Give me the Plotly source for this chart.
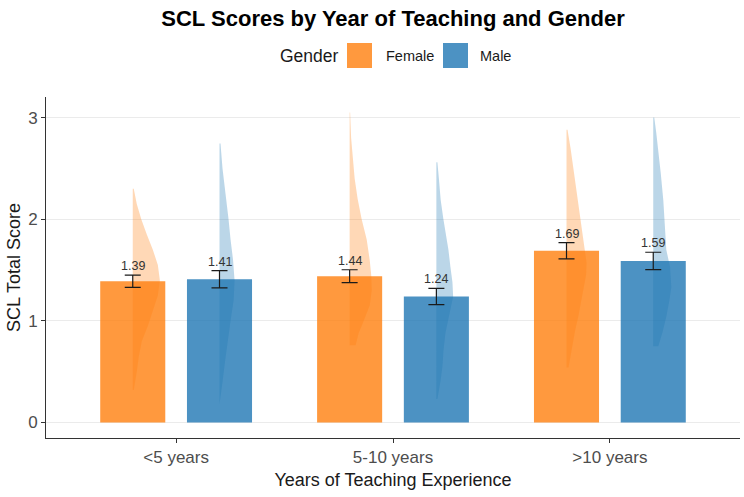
import plotly.graph_objects as go

# ---------------- data ----------------
categories = ["<5 years", "5-10 years", ">10 years"]
genders = ["Female", "Male"]

female_mean = [1.39, 1.44, 1.69]
male_mean = [1.41, 1.24, 1.59]
female_se = [0.06, 0.063, 0.08]
male_se = [0.085, 0.08, 0.085]

# half-violin density profiles (score levels, relative density)
female_violin_scores = [
    [2.30, 2.15, 2.0, 1.85, 1.7, 1.55, 1.4, 1.25, 1.1, 0.95, 0.8, 0.65, 0.5, 0.32],
    [3.05, 2.8, 2.6, 2.4, 2.2, 2.0, 1.8, 1.6, 1.45, 1.3, 1.15, 1.04, 0.95, 0.88, 0.76],
    [2.88, 2.7, 2.51, 2.35, 2.19, 2.0, 1.86, 1.7, 1.57, 1.45, 1.37, 1.2, 1.04, 0.9, 0.72, 0.54],
]
female_violin_density = [
    [1, 4, 8.5, 14, 20, 25, 27, 25, 20, 15, 9, 6, 4, 1],
    [0.5, 1.5, 3, 5, 8, 12, 17, 20, 21.5, 22, 20, 16, 12, 9, 6],
    [1, 4, 6.7, 9, 11.7, 14, 16, 18.5, 20, 19.5, 18, 15, 11.7, 8.5, 5, 2],
]
male_violin_scores = [
    [2.745, 2.5, 2.2, 2.0, 1.8, 1.6, 1.4, 1.2, 1.0, 0.8, 0.6, 0.4, 0.18],
    [2.56, 2.4, 2.19, 2.0, 1.86, 1.7, 1.53, 1.38, 1.24, 1.1, 0.88, 0.7, 0.55, 0.4, 0.23],
    [3.0, 2.85, 2.68, 2.45, 2.19, 1.95, 1.7, 1.53, 1.33, 1.2, 1.04, 0.88, 0.75],
]
male_violin_density = [
    [1, 3, 7, 9, 11, 13.5, 15, 14, 11, 8, 5.5, 3, 0.5],
    [1, 2.5, 4.3, 7, 9.3, 12, 14, 16, 16.7, 14, 9, 7, 6, 4, 1],
    [1, 3, 5, 7.5, 10, 11.5, 13, 16.7, 18, 16, 13, 9, 5],
]

y_ticks = [0, 1, 2, 3]

# ---------------- styling ----------------
W, H = 744, 497
L, R, T, B = 46, 4, 97, 59
PW, PH = W - L - R, H - T - B
FONT = "Liberation Sans, Arial, sans-serif"
ORANGE = (255, 127, 14)
BLUE = (31, 119, 180)
DODGE = 0.2
BAR_W = 0.3
VIOLIN_MAX = 0.125  # x-units for the largest density reading
DENS_NORM = 27.0


def rgba(c, a):
    return f"rgba({c[0]},{c[1]},{c[2]},{a})"


fig = go.Figure()

groups = [
    (genders[0], female_mean, female_se, female_violin_scores, female_violin_density, ORANGE, -DODGE),
    (genders[1], male_mean, male_se, male_violin_scores, male_violin_density, BLUE, DODGE),
]

# bars
for name, means, ses, vs, vd, col, off in groups:
    xs = [i + off for i in range(len(categories))]
    fig.add_trace(go.Bar(
        x=xs, y=means, width=BAR_W, name=name,
        marker=dict(color=rgba(col, 0.8), line=dict(width=0)),
        showlegend=False, hoverinfo="skip",
    ))

# half violins
for name, means, ses, vs, vd, col, off in groups:
    for i in range(len(categories)):
        cx = i + off
        ys = vs[i]
        ds = vd[i]
        px = [cx + d / DENS_NORM * VIOLIN_MAX for d in ds]
        poly_x = [cx] + px + [cx, cx]
        poly_y = [ys[0]] + ys + [ys[-1], ys[0]]
        fig.add_trace(go.Scatter(
            x=poly_x, y=poly_y, mode="lines", fill="toself",
            fillcolor=rgba(col, 0.3), line=dict(width=0, color=rgba(col, 0)),
            showlegend=False, hoverinfo="skip",
        ))

# error bars
for name, means, ses, vs, vd, col, off in groups:
    xs = [i + off for i in range(len(categories))]
    fig.add_trace(go.Scatter(
        x=xs, y=means, mode="markers",
        marker=dict(size=1, opacity=0),
        error_y=dict(type="data", array=ses, visible=True,
                     color="#1a1a1a", thickness=1.2, width=8),
        showlegend=False, hoverinfo="skip",
    ))

# value labels
annotations = []
for name, means, ses, vs, vd, col, off in groups:
    for i, (m, s) in enumerate(zip(means, ses)):
        annotations.append(dict(
            x=i + off, y=m + s, xref="x", yref="y",
            text=f"{m:.2f}", showarrow=False, yanchor="bottom", yshift=0,
            font=dict(family=FONT, size=12.5, color="#333333"),
        ))


def px_x(p):
    return (p - L) / PW


def px_y(p):
    return (H - B - p) / PH


# manual legend (top)
leg_cy = 55.5
annotations.append(dict(
    x=px_x(278), y=px_y(leg_cy), xref="paper", yref="paper",
    text="Gender", showarrow=False, xanchor="left", yanchor="middle",
    font=dict(family=FONT, size=17.5, color="#1a1a1a"),
))
shapes = []
for key_x, lab_x, lab, col in [(347, 384, genders[0], ORANGE), (443, 478, genders[1], BLUE)]:
    shapes.append(dict(
        type="rect", xref="paper", yref="paper",
        x0=px_x(key_x), x1=px_x(key_x + 25),
        y0=px_y(leg_cy + 12.5), y1=px_y(leg_cy - 12.5),
        fillcolor=rgba(col, 0.8), line=dict(width=0),
    ))
    annotations.append(dict(
        x=px_x(lab_x), y=px_y(leg_cy), xref="paper", yref="paper",
        text=lab, showarrow=False, xanchor="left", yanchor="middle",
        font=dict(family=FONT, size=14.5, color="#1a1a1a"),
    ))

fig.update_layout(
    width=W, height=H,
    margin=dict(l=L, r=R, t=T, b=B),
    plot_bgcolor="white", paper_bgcolor="white",
    barmode="overlay",
    showlegend=False,
    font=dict(family=FONT, color="#1a1a1a"),
    title=dict(
        text="<b>SCL Scores by Year of Teaching and Gender</b>",
        x=0.5, xref="paper", xanchor="center",
        y=1 - 18 / H, yref="container", yanchor="middle",
        font=dict(family=FONT, size=22, color="#000000"),
    ),
    xaxis=dict(
        range=[-0.6, 2.6],
        tickmode="array", tickvals=list(range(len(categories))), ticktext=categories,
        showgrid=False, zeroline=False,
        showline=True, linecolor="#333333", linewidth=1,
        ticks="outside", ticklen=4, tickcolor="#333333", tickwidth=1,
        tickfont=dict(family=FONT, size=17, color="#4D4D4D"),
        title=dict(text="Years of Teaching Experience", standoff=6,
                   font=dict(family=FONT, size=18, color="#1a1a1a")),
    ),
    yaxis=dict(
        range=[-0.1525, 3.2025],
        tickmode="array", tickvals=y_ticks,
        showgrid=True, gridcolor="#EBEBEB", gridwidth=1,
        zeroline=False,
        showline=True, linecolor="#333333", linewidth=1,
        ticks="outside", ticklen=4, tickcolor="#333333", tickwidth=1,
        tickfont=dict(family=FONT, size=17, color="#4D4D4D"),
        title=dict(text="SCL Total Score", standoff=2,
                   font=dict(family=FONT, size=18, color="#1a1a1a")),
    ),
    annotations=annotations,
    shapes=shapes,
)

fig.write_html("out.html")
